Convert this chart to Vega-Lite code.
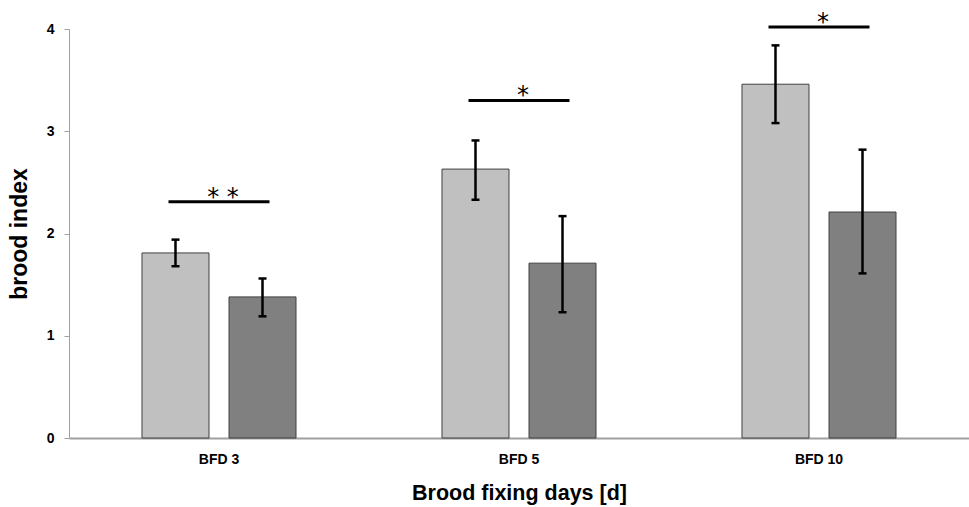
{
  "$schema": "https://vega.github.io/schema/vega-lite/v6.json",
  "autosize": "none",
  "width": 900,
  "height": 409,
  "padding": {"left": 69, "top": 29, "right": 0, "bottom": 69},
  "background": "white",
  "config": {"view": {"stroke": null}, "font": "Liberation Sans"},
  "datasets": {
    "bars": [
      {"bfd": "BFD 3", "group": "A", "mean": 1.81, "lo": 1.68, "hi": 1.94},
      {"bfd": "BFD 3", "group": "B", "mean": 1.38, "lo": 1.19, "hi": 1.56},
      {"bfd": "BFD 5", "group": "A", "mean": 2.63, "lo": 2.33, "hi": 2.91},
      {"bfd": "BFD 5", "group": "B", "mean": 1.71, "lo": 1.23, "hi": 2.17},
      {"bfd": "BFD 10", "group": "A", "mean": 3.46, "lo": 3.08, "hi": 3.84},
      {"bfd": "BFD 10", "group": "B", "mean": 2.21, "lo": 1.61, "hi": 2.82}
    ],
    "sig": [
      {"bfd": "BFD 3", "y": 2.31, "ty": 2.42, "label": "* *"},
      {"bfd": "BFD 5", "y": 3.30, "ty": 3.41, "label": "*"},
      {"bfd": "BFD 10", "y": 4.02, "ty": 4.13, "label": "*"}
    ]
  },
  "encoding": {
    "x": {
      "field": "bfd", "type": "nominal", "sort": ["BFD 3", "BFD 5", "BFD 10"],
      "scale": {"paddingInner": 0, "paddingOuter": 0},
      "axis": {
        "title": "Brood fixing days [d]", "labelAngle": 0, "ticks": false,
        "domainColor": "#a0a0a0", "domainWidth": 2,
        "labelFontWeight": "bold", "labelFontSize": 14, "labelColor": "#000", "labelPadding": 14,
        "titleFontWeight": "bold", "titleFontSize": 21.5, "titleColor": "#000", "titlePadding": 16
      }
    }
  },
  "layer": [
    {
      "data": {"name": "bars"},
      "mark": {"type": "bar", "stroke": "#404040", "strokeWidth": 1},
      "encoding": {
        "xOffset": {"field": "group", "type": "nominal", "scale": {"paddingInner": 0.23, "paddingOuter": 0.839}},
        "y": {
          "field": "mean", "type": "quantitative",
          "scale": {"domain": [0, 4], "nice": false},
          "axis": {
            "title": "brood index", "values": [0, 1, 2, 3, 4], "format": "d", "grid": false,
            "domainColor": "#a0a0a0", "tickColor": "#a0a0a0", "tickSize": 5,
            "labelFontWeight": "bold", "labelFontSize": 14, "labelColor": "#000", "labelPadding": 10,
            "titleFontWeight": "bold", "titleFontSize": 23, "titleColor": "#000", "titlePadding": 15
          }
        },
        "color": {"field": "group", "type": "nominal", "scale": {"domain": ["A", "B"], "range": ["#c0c0c0", "#808080"]}, "legend": null}
      }
    },
    {
      "data": {"name": "bars"},
      "mark": {"type": "rule", "color": "#000", "strokeWidth": 2.5},
      "encoding": {
        "xOffset": {"field": "group", "type": "nominal", "scale": {"paddingInner": 0.23, "paddingOuter": 0.839}},
        "y": {"field": "lo", "type": "quantitative"},
        "y2": {"field": "hi"}
      }
    },
    {
      "data": {"name": "bars"},
      "mark": {"type": "tick", "color": "#000", "opacity": 1, "thickness": 2.5, "size": 8},
      "encoding": {
        "xOffset": {"field": "group", "type": "nominal", "scale": {"paddingInner": 0.23, "paddingOuter": 0.839}},
        "y": {"field": "lo", "type": "quantitative"}
      }
    },
    {
      "data": {"name": "bars"},
      "mark": {"type": "tick", "color": "#000", "opacity": 1, "thickness": 2.5, "size": 8},
      "encoding": {
        "xOffset": {"field": "group", "type": "nominal", "scale": {"paddingInner": 0.23, "paddingOuter": 0.839}},
        "y": {"field": "hi", "type": "quantitative"}
      }
    },
    {
      "data": {"name": "sig"},
      "mark": {"type": "tick", "color": "#000", "opacity": 1, "thickness": 3, "size": 101, "dx": 4},
      "encoding": {
        "y": {"field": "y", "type": "quantitative"}
      }
    },
    {
      "data": {"name": "sig"},
      "mark": {"type": "text", "color": "#000", "fontSize": 24, "font": "DejaVu Sans", "baseline": "middle", "dx": 4, "dy": 7},
      "encoding": {
        "y": {"field": "ty", "type": "quantitative"},
        "text": {"field": "label"}
      }
    }
  ]
}
